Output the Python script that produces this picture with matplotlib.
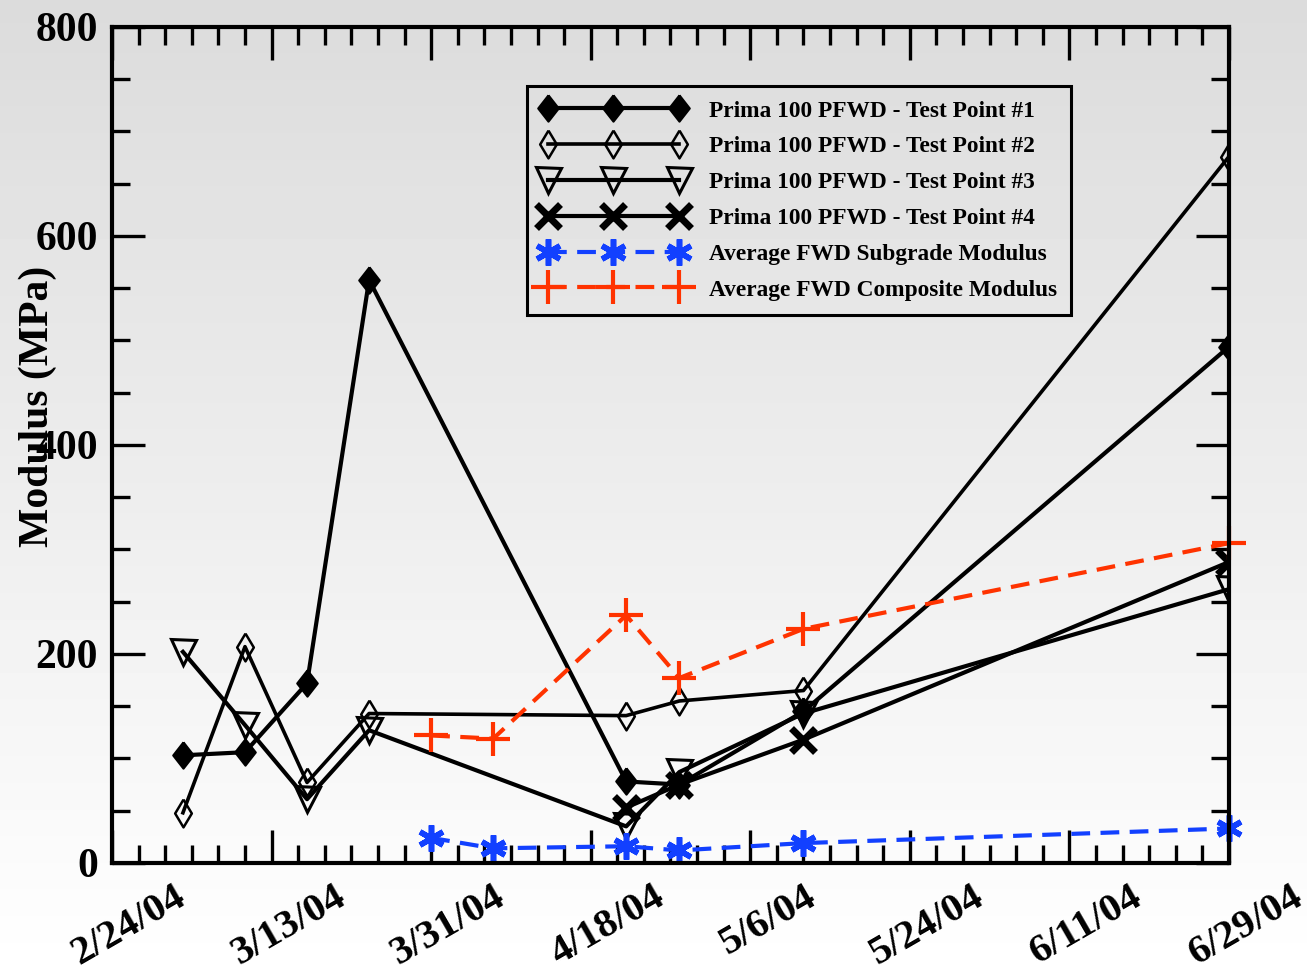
import numpy as np
import pandas as pd
import matplotlib
matplotlib.use('Agg')
import matplotlib.pyplot as plt
import matplotlib.dates as mdates
import matplotlib.transforms as mtransforms
from matplotlib.ticker import FixedLocator, FuncFormatter

# Prima 100 PFWD test points vs FWD averages
tp_dates = ['2004-03-03', '2004-03-10', '2004-03-17', '2004-03-24',
            '2004-04-22', '2004-04-28', '2004-05-12', '2004-06-29']
tp1 = [103, 106, 172, 558, 78, 75, 145, 494]
tp2 = [48, 207, 77, 143, 141, 155, 165, 676]
tp3 = [202, 132, 61, 127, 35, 87, 143, 262]

tp4_dates = ['2004-04-22', '2004-04-28', '2004-05-12', '2004-06-29']
tp4 = [53, 75, 118, 288]

fwd_dates = ['2004-03-31', '2004-04-07', '2004-04-22', '2004-04-28', '2004-05-12', '2004-06-29']
subgrade = [24, 14, 16, 12, 19, 33]
composite = [122, 119, 237, 177, 224, 306]

labels = ['Prima 100 PFWD - Test Point #1', 'Prima 100 PFWD - Test Point #2',
          'Prima 100 PFWD - Test Point #3', 'Prima 100 PFWD - Test Point #4',
          'Average FWD Subgrade Modulus', 'Average FWD Composite Modulus']

plt.rcParams['font.family'] = ['Liberation Serif', 'DejaVu Serif']
plt.rcParams['font.weight'] = 'bold'

fig = plt.figure(figsize=(13.07, 9.73), dpi=100)

# grey-to-white background gradient
bg = fig.add_axes([0, 0, 1, 1], zorder=-10)
grad = np.linspace(0.86, 1.0, 256).reshape(-1, 1)
bg.imshow(grad, aspect='auto', cmap='gray', vmin=0, vmax=1, extent=[0, 1, 1, 0])
bg.set_axis_off()

ax = fig.add_axes([0.0857, 0.1131, 0.8546, 0.8592])
ax.set_facecolor('none')

x_tp = pd.to_datetime(tp_dates).to_pydatetime()
x_tp4 = pd.to_datetime(tp4_dates).to_pydatetime()
x_fwd = pd.to_datetime(fwd_dates).to_pydatetime()

diamond_fill = [(0, 1), (0.78, 0), (0, -1), (-0.78, 0), (0, 1)]
diamond_open = [(0, 1), (0.6, 0), (0, -1), (-0.6, 0), (0, 1)]

ax.plot(x_tp, tp1, color='black', lw=3, marker=diamond_fill, ms=19,
        mfc='black', mec='black', mew=1.5, label=labels[0])
ax.plot(x_tp, tp2, color='black', lw=2.6, marker=diamond_open, ms=20,
        mfc='none', mec='black', mew=1.8, label=labels[1])
ax.plot(x_tp, tp3, color='black', lw=3, marker='v', ms=18,
        mfc='none', mec='black', mew=2.2, label=labels[2])
ax.plot(x_tp4, tp4, color='black', lw=3, marker='x', ms=17,
        mec='black', mew=5, label=labels[3])
ax.plot(x_fwd, subgrade, color='#1240ff', lw=3, dashes=(4.5, 2.5),
        marker=(6, 2, 0), ms=19, mec='#1240ff', mew=4, label=labels[4], clip_on=False)
ax.plot(x_fwd, composite, color='#ff3300', lw=3, dashes=(4.5, 2.5),
        marker='+', ms=24, mec='#ff3300', mew=3, label=labels[5], clip_on=False)

start = pd.Timestamp('2004-02-24')
end = pd.Timestamp('2004-06-29')
ax.set_xlim(start, end)
ax.set_ylim(0, 800)

major_dates = pd.date_range(start, end, freq='18D')
minor_dates = pd.date_range(start, end, freq='3D')
ax.xaxis.set_major_locator(FixedLocator(mdates.date2num(major_dates.to_pydatetime())))
ax.xaxis.set_minor_locator(FixedLocator(mdates.date2num(minor_dates.to_pydatetime())))
ax.xaxis.set_major_formatter(FuncFormatter(
    lambda v, pos: '%d/%d/%s' % (mdates.num2date(v).month, mdates.num2date(v).day,
                                 mdates.num2date(v).strftime('%y'))))
ax.set_yticks(np.arange(0, 801, 200))
ax.set_yticks(np.arange(0, 801, 50), minor=True)

ax.tick_params(which='both', direction='in', top=True, right=True, width=2.4, color='black')
ax.tick_params(which='major', length=24)
ax.tick_params(which='minor', length=13)
ax.tick_params(axis='x', which='major', labelsize=29.5, pad=11)
ax.tick_params(axis='y', which='major', labelsize=30, pad=10)
for sp in ax.spines.values():
    sp.set_linewidth(3)

offset = mtransforms.ScaledTranslation(0.17, 0, fig.dpi_scale_trans)
for lab in ax.get_xticklabels():
    lab.set_rotation(30)
    lab.set_ha('center')
    lab.set_fontweight('bold')
    lab.set_transform(lab.get_transform() + offset)
for lab in ax.get_yticklabels():
    lab.set_fontweight('bold')

ax.set_ylabel('Modulus (MPa)', fontsize=30, fontweight='bold')
ax.yaxis.set_label_coords(-0.049, 0.546)

leg = ax.legend(loc='upper left', bbox_to_anchor=(0.3715, 0.929), borderaxespad=0,
                numpoints=3, handlelength=6.2, handletextpad=1.0, labelspacing=0.62,
                borderpad=0.6, fancybox=False, framealpha=1, facecolor='none',
                edgecolor='black',
                prop={'family': 'Liberation Serif', 'weight': 'bold', 'size': 16.8})
leg.get_frame().set_linewidth(2.2)

plt.savefig('out.png', dpi=100)
